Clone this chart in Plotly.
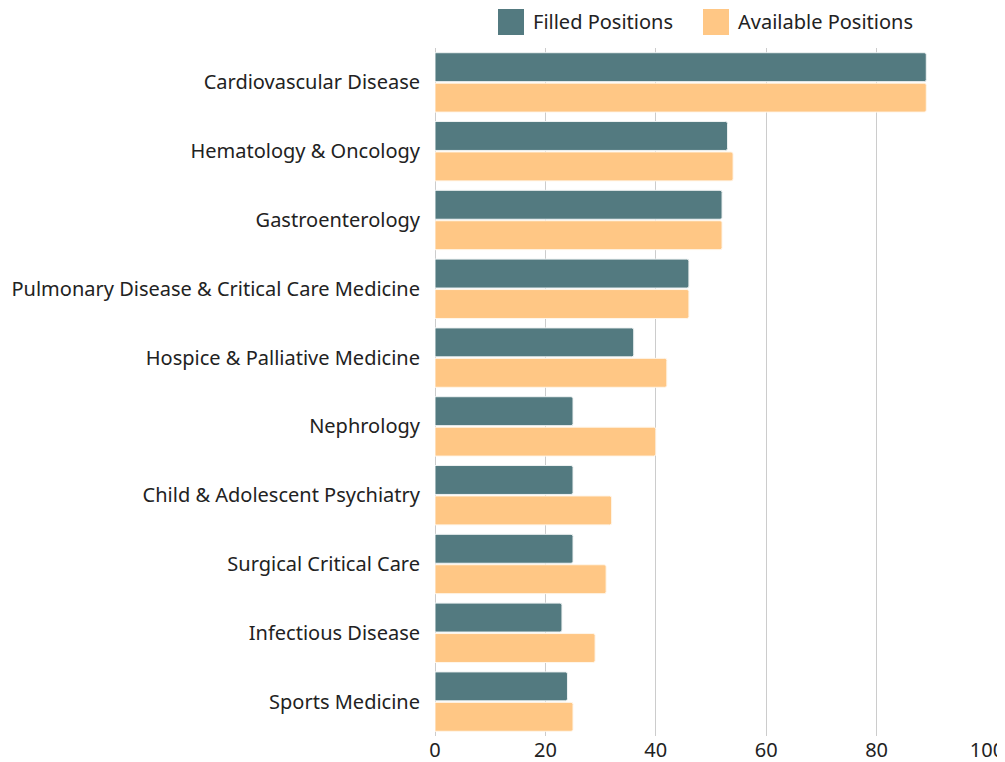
import plotly.graph_objects as go

# data
specialties = [
    "Cardiovascular Disease",
    "Hematology & Oncology",
    "Gastroenterology",
    "Pulmonary Disease & Critical Care Medicine",
    "Hospice & Palliative Medicine",
    "Nephrology",
    "Child & Adolescent Psychiatry",
    "Surgical Critical Care",
    "Infectious Disease",
    "Sports Medicine",
]
filled = [89, 53, 52, 46, 36, 25, 25, 25, 23, 24]
available = [89, 54, 52, 46, 42, 40, 32, 31, 29, 25]
x_ticks = [0, 20, 40, 60, 80, 100]

series = [
    ("Filled Positions", filled, "#537a80", "#eef2f2"),
    ("Available Positions", available, "#ffc785", "#fff6ea"),
]

FONT = "Noto Sans"

fig = go.Figure()
for name, vals, col, edge in series:
    fig.add_trace(go.Bar(
        y=specialties, x=vals, orientation="h", name=name,
        marker=dict(color=col, line=dict(color=edge, width=1)),
        showlegend=False,
    ))

# legend drawn as big square swatches + labels above the plot
# (plot area spans 552 x 688 px, its top-left at page px 435, 48)
legend_x = [498, 703]
for (name, _, col, _), lx in zip(series, legend_x):
    fig.add_shape(type="rect", xref="paper", yref="paper",
                  x0=(lx - 435) / 552, x1=(lx + 26 - 435) / 552,
                  y0=(736 - 35) / 688, y1=(736 - 9) / 688,
                  fillcolor=col, line=dict(width=0))
    fig.add_annotation(text=name, xref="paper", yref="paper",
                       x=(lx + 33 - 435) / 552, y=(736 - 22) / 688,
                       xanchor="left", yanchor="middle", showarrow=False,
                       font=dict(size=20, color="#222222"))

# page body has an 8px margin, so the figure is 8px smaller than the window
fig.update_layout(
    width=997, height=754,
    barmode="group",
    bargap=0.115,
    bargroupgap=0.05,
    barcornerradius=2,
    paper_bgcolor="white",
    plot_bgcolor="white",
    font=dict(family=FONT, size=20, color="#222222"),
    margin=dict(l=427, r=18, t=40, b=26),
    showlegend=False,
)

fig.update_xaxes(
    range=[0, 100],
    tickvals=x_ticks,
    showgrid=True, gridcolor="#cccccc", gridwidth=1,
    zeroline=True, zerolinecolor="#cccccc", zerolinewidth=1,
    showline=False,
    automargin=False,
    tickfont=dict(size=20),
)
fig.update_yaxes(
    autorange="reversed",
    showgrid=False,
    ticks="", ticklabelstandoff=14,
    automargin=False,
    tickfont=dict(size=20),
)

fig.write_html("out.html")
